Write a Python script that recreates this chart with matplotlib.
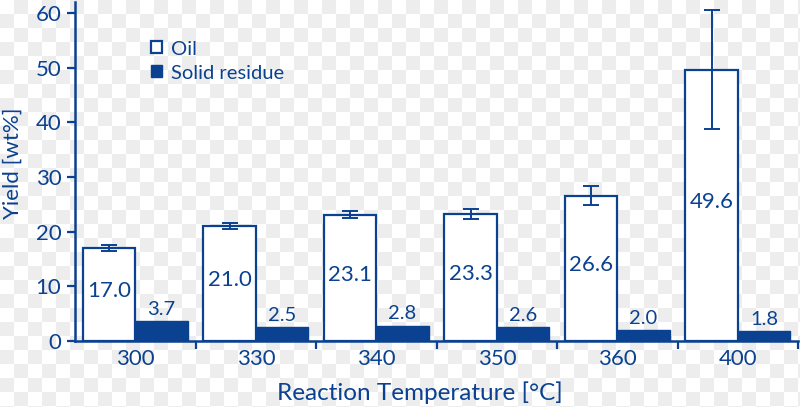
import numpy as np
import matplotlib
matplotlib.use("Agg")
import matplotlib.pyplot as plt

# data
temps = ["300", "330", "340", "350", "360", "400"]
oil = [17.0, 21.0, 23.1, 23.3, 26.6, 49.6]
oil_err = [0.6, 0.5, 0.6, 0.9, 1.8, 10.9]
solid = [3.7, 2.5, 2.8, 2.6, 2.0, 1.8]

BLUE = "#0a4190"
plt.rcParams["font.family"] = ["Lato", "DejaVu Sans"]

fig = plt.figure(figsize=(8, 4.07), dpi=100)

# light checkerboard backdrop seen in the reference image
bg = fig.add_axes([0, 0, 1, 1], zorder=-5)
sq = 14
ny, nx = int(np.ceil(407 / sq)), int(np.ceil(800 / sq))
checks = np.add.outer(np.arange(ny), np.arange(nx)) % 2
bg.imshow(checks, cmap="gray_r", vmin=0, vmax=14, aspect="auto",
          interpolation="nearest", extent=(0, nx * sq, ny * sq, 0))
bg.set_xlim(0, 800)
bg.set_ylim(407, 0)
bg.axis("off")

ax = fig.add_axes([0.094, 0.162, 0.9035, 0.833])
ax.patch.set_alpha(0)

x = np.arange(len(temps))
w = 0.435
ax.bar(x - w / 2, oil, w, yerr=oil_err, facecolor="white", edgecolor=BLUE,
       linewidth=1.6, label="Oil",
       error_kw=dict(ecolor=BLUE, elinewidth=1.4, capsize=6, capthick=1.4))
ax.bar(x + w / 2, solid, w, facecolor=BLUE, edgecolor=BLUE, linewidth=1.0,
       label="Solid residue")

for xi, v in zip(x, oil):
    ax.text(xi - w / 2, v / 2 + 0.6, f"{v:.1f}", ha="center", va="center",
            color=BLUE, fontsize=16)
for xi, v in zip(x, solid):
    ax.text(xi + w / 2, v + 0.6, f"{v:.1f}", ha="center", va="bottom",
            color=BLUE, fontsize=14.5)

ax.set_xlim(-0.5, len(temps) - 0.5)
ax.set_ylim(0, 62)
ax.set_yticks([0, 10, 20, 30, 40, 50, 60])
ax.set_xticks(x)
ax.set_xticklabels(temps)
ax.set_xticks(np.arange(len(temps)) + 0.5, minor=True)
ax.tick_params(axis="x", which="major", length=0, pad=6, labelsize=16, colors=BLUE)
ax.tick_params(axis="x", which="minor", length=6, width=1.6, color=BLUE)
ax.tick_params(axis="y", length=6, width=1.6, color=BLUE, labelcolor=BLUE,
               labelsize=16, pad=4)

for s in ["top", "right"]:
    ax.spines[s].set_visible(False)
for s in ["left", "bottom"]:
    ax.spines[s].set_color(BLUE)
    ax.spines[s].set_linewidth(1.8)

ax.set_xlabel("Reaction Temperature [°C]", color=BLUE, fontsize=17.5)
ax.xaxis.set_label_coords(0.477, -0.118)
ax.set_ylabel("Yield [wt%]", color=BLUE, fontsize=16)
ax.yaxis.set_label_coords(-0.072, 0.525)

leg = ax.legend(loc="upper left", bbox_to_anchor=(0.08, 0.94), frameon=False,
                fontsize=14.5, handlelength=0.55, handleheight=0.55,
                handletextpad=0.45, labelspacing=0.35, labelcolor=BLUE)
for h in leg.legend_handles:
    h.set_edgecolor(BLUE)

fig.savefig("out.png", dpi=100)
